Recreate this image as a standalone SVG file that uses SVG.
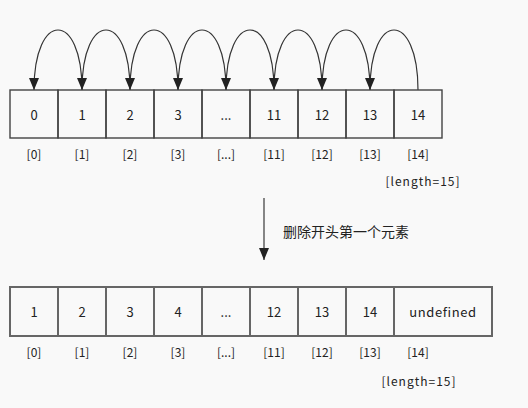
<svg xmlns="http://www.w3.org/2000/svg" width="528" height="408" viewBox="0 0 528 408">
<defs>
<marker id="ah" markerWidth="12" markerHeight="10" refX="12" refY="5" orient="auto" markerUnits="userSpaceOnUse" viewBox="0 0 12 10">
<path d="M0,0 L12,5 L0,10 Z" fill="#222"/>
</marker>
<style>
.box{fill:none;stroke:#444;stroke-width:1.4}
.box2{fill:none;stroke:#666;stroke-width:2}
.t{font-family:"Noto Sans CJK SC","Liberation Sans",sans-serif;font-size:13px;fill:#222;text-anchor:middle;dominant-baseline:central}
.l{font-family:"Noto Sans CJK SC","Liberation Sans",sans-serif;font-size:12px;fill:#222;text-anchor:middle;dominant-baseline:central}
.len{letter-spacing:1px}
.arc{fill:none;stroke:#333;stroke-width:1.2}
</style>
</defs>
<rect width="528" height="408" fill="#f9f9f9"/>
<g id="connectors">
<path class="arc" d="M82,90 C82,10 34,10 34,90" marker-end="url(#ah)"/>
<path class="arc" d="M130,90 C130,10 82,10 82,90" marker-end="url(#ah)"/>
<path class="arc" d="M178,90 C178,10 130,10 130,90" marker-end="url(#ah)"/>
<path class="arc" d="M226,90 C226,10 178,10 178,90" marker-end="url(#ah)"/>
<path class="arc" d="M274,90 C274,10 226,10 226,90" marker-end="url(#ah)"/>
<path class="arc" d="M322,90 C322,10 274,10 274,90" marker-end="url(#ah)"/>
<path class="arc" d="M370,90 C370,10 322,10 322,90" marker-end="url(#ah)"/>
<path class="arc" d="M418,90 C418,10 370,10 370,90" marker-end="url(#ah)"/>
<line x1="264" y1="198" x2="264" y2="260" stroke="#555" stroke-width="1.4" marker-end="url(#ah)"/>
</g>
<g id="top-array">
<rect class="box" x="10" y="90" width="48" height="48"/><text class="t" x="34" y="114">0</text>
<rect class="box" x="58" y="90" width="48" height="48"/><text class="t" x="82" y="114">1</text>
<rect class="box" x="106" y="90" width="48" height="48"/><text class="t" x="130" y="114">2</text>
<rect class="box" x="154" y="90" width="48" height="48"/><text class="t" x="178" y="114">3</text>
<rect class="box" x="202" y="90" width="48" height="48"/><text class="t" x="226" y="114">...</text>
<rect class="box" x="250" y="90" width="48" height="48"/><text class="t" x="274" y="114">11</text>
<rect class="box" x="298" y="90" width="48" height="48"/><text class="t" x="322" y="114">12</text>
<rect class="box" x="346" y="90" width="48" height="48"/><text class="t" x="370" y="114">13</text>
<rect class="box" x="394" y="90" width="48" height="48"/><text class="t" x="418" y="114">14</text>
</g>
<g id="top-indices">
<text class="l" x="34" y="153">[0]</text>
<text class="l" x="82" y="153">[1]</text>
<text class="l" x="130" y="153">[2]</text>
<text class="l" x="178" y="153">[3]</text>
<text class="l" x="226" y="153">[...]</text>
<text class="l" x="274" y="153">[11]</text>
<text class="l" x="322" y="153">[12]</text>
<text class="l" x="370" y="153">[13]</text>
<text class="l" x="418" y="153">[14]</text>
<text class="l len" x="423" y="180">[length=15]</text>
</g>
<g id="caption">
<text class="t" x="346" y="231" style="font-size:14px">删除开头第一个元素</text>
</g>
<g id="bottom-array">
<rect class="box2" x="10" y="287" width="48" height="49"/><text class="t" x="34" y="311">1</text>
<rect class="box2" x="58" y="287" width="48" height="49"/><text class="t" x="82" y="311">2</text>
<rect class="box2" x="106" y="287" width="48" height="49"/><text class="t" x="130" y="311">3</text>
<rect class="box2" x="154" y="287" width="48" height="49"/><text class="t" x="178" y="311">4</text>
<rect class="box2" x="202" y="287" width="48" height="49"/><text class="t" x="226" y="311">...</text>
<rect class="box2" x="250" y="287" width="48" height="49"/><text class="t" x="274" y="311">12</text>
<rect class="box2" x="298" y="287" width="48" height="49"/><text class="t" x="322" y="311">13</text>
<rect class="box2" x="346" y="287" width="48" height="49"/><text class="t" x="370" y="311">14</text>
<rect class="box2" x="394" y="287" width="98" height="49"/><text class="t" x="443" y="311" style="letter-spacing:0.6px">undefined</text>
</g>
<g id="bottom-indices">
<text class="l" x="34" y="351">[0]</text>
<text class="l" x="82" y="351">[1]</text>
<text class="l" x="130" y="351">[2]</text>
<text class="l" x="178" y="351">[3]</text>
<text class="l" x="226" y="351">[...]</text>
<text class="l" x="274" y="351">[11]</text>
<text class="l" x="322" y="351">[12]</text>
<text class="l" x="370" y="351">[13]</text>
<text class="l" x="418" y="351">[14]</text>
<text class="l len" x="419" y="380">[length=15]</text>
</g>
</svg>
